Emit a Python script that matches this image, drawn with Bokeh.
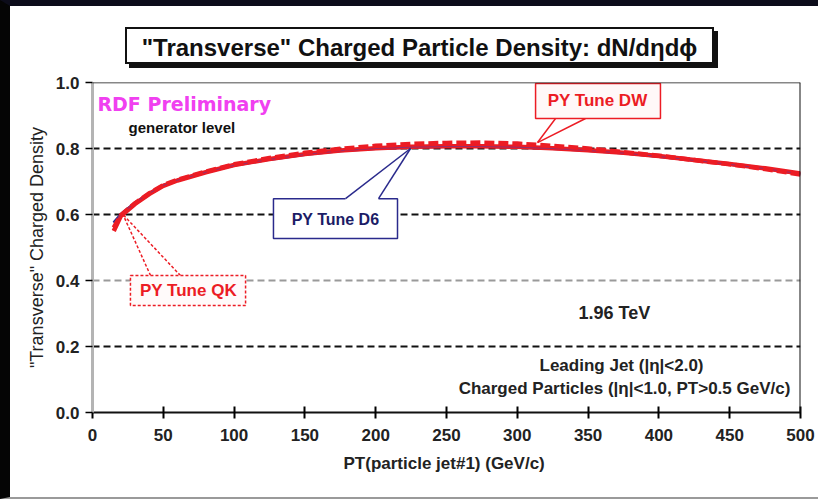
import math
from bokeh.plotting import figure
from bokeh.layouts import column
from bokeh.models import Label, Span, FixedTicker, PrintfTickFormatter, Div
from bokeh.embed import file_html
from bokeh.resources import INLINE

# ---- data ----
pt = [15, 20, 30, 40, 50, 60, 80, 100, 125, 150, 175, 200, 225, 250, 275,
      300, 325, 350, 375, 400, 425, 450, 475, 500]
tune_qk = [0.550, 0.595, 0.632, 0.662, 0.687, 0.703, 0.728, 0.750, 0.768, 0.783,
           0.794, 0.801, 0.805, 0.807, 0.807, 0.805, 0.801, 0.795, 0.787, 0.777,
           0.765, 0.753, 0.740, 0.724]
tune_d6 = [0.575, 0.600, 0.635, 0.664, 0.688, 0.704, 0.728, 0.749, 0.767, 0.782,
           0.793, 0.800, 0.804, 0.806, 0.806, 0.804, 0.800, 0.794, 0.786, 0.776,
           0.764, 0.752, 0.739, 0.723]
tune_dw = [0.560, 0.598, 0.634, 0.664, 0.689, 0.705, 0.730, 0.752, 0.771, 0.787,
           0.799, 0.808, 0.814, 0.817, 0.818, 0.815, 0.808, 0.800, 0.789, 0.778,
           0.765, 0.752, 0.738, 0.721]

x_ticks = [0, 50, 100, 150, 200, 250, 300, 350, 400, 450, 500]
y_ticks = [0.0, 0.2, 0.4, 0.6, 0.8, 1.0]
grid_levels = [0.2, 0.4, 0.6, 0.8]
grid_colors = ["#111111", "#9a9a9a", "#111111", "#111111"]

# annotation geometry (data coordinates)
dw_box = dict(left=312.9, right=401.1, top=0.997, bottom=0.891)
dw_callout_x = [[327.0, 314.3], [348.2, 314.3]]
dw_callout_y = [[0.891, 0.818], [0.891, 0.818]]
d6_box = dict(left=127.8, right=215.4, top=0.648, bottom=0.527)
d6_callout_x = [[178.7, 224.6], [202.0, 224.6]]
d6_callout_y = [[0.648, 0.800], [0.648, 0.800]]
qk_box = dict(left=26.8, right=108.1, top=0.415, bottom=0.324)
qk_callout_x = [[41.0, 21.5], [62.1, 21.5]]
qk_callout_y = [[0.415, 0.600], [0.415, 0.600]]

RED = "#ec1c24"
NAVY = "#2a2a8c"
FONT = "Liberation Sans"
TITLE = "\"Transverse\" Charged Particle Density: dN/dηdϕ"

p = figure(width=808, height=427, x_range=(0, 500), y_range=(0, 1.0),
           output_backend="svg", toolbar_location=None,
           min_border_left=82, min_border_right=18, min_border_top=12,
           min_border_bottom=85)
p.outline_line_color = None
p.xgrid.visible = False
p.ygrid.visible = False
p.background_fill_color = "white"
p.border_fill_color = "white"
p.border_fill_alpha = 0.0

# axes
p.xaxis.ticker = FixedTicker(ticks=x_ticks)
p.yaxis.ticker = FixedTicker(ticks=y_ticks)
p.xaxis.minor_tick_line_color = None
p.yaxis.minor_tick_line_color = None
p.xaxis.axis_line_color = "#111111"
p.xaxis.axis_line_width = 2
p.xaxis.major_tick_line_width = 2
p.xaxis.major_tick_in = 6
p.xaxis.major_tick_out = 6
p.xaxis.major_label_standoff = 10
p.yaxis.axis_line_color = "#b4b4b4"
p.yaxis.axis_line_width = 3
p.yaxis.major_tick_line_width = 1.5
p.yaxis.major_tick_in = 0
p.yaxis.major_tick_out = 7
p.yaxis.major_label_standoff = 6
p.yaxis.formatter = PrintfTickFormatter(format="%.1f")
for ax in (p.xaxis, p.yaxis):
    ax.major_label_text_font = FONT
    ax.major_label_text_font_style = "bold"
    ax.major_label_text_font_size = "17px"
    ax.major_label_text_color = "#222222"

p.xaxis.axis_label = "PT(particle jet#1)  (GeV/c)"
p.xaxis.axis_label_text_font = FONT
p.xaxis.axis_label_text_font_style = "bold"
p.xaxis.axis_label_text_font_size = "17px"
p.xaxis.axis_label_text_color = "#222222"
p.xaxis.axis_label_standoff = 10

p.yaxis.axis_label = "\"Transverse\" Charged Density"
p.yaxis.axis_label_text_font = FONT
p.yaxis.axis_label_text_font_style = "normal"
p.yaxis.axis_label_text_font_size = "18px"
p.yaxis.axis_label_text_color = "#222222"
p.yaxis.axis_label_standoff = 6

# grid dashes (beneath glyphs)
for lvl, col in zip(grid_levels, grid_colors):
    p.add_layout(Span(location=lvl, dimension="width", line_color=col,
                      line_width=2, line_dash="7 4", level="underlay"))
# frame top and right
p.add_layout(Span(location=y_ticks[-1], dimension="width", line_color="#111111", line_width=1.5))
p.add_layout(Span(location=x_ticks[-1], dimension="height", line_color="#111111", line_width=2))

# curves
p.line(pt, tune_d6, line_color=NAVY, line_width=3)
p.line(pt, tune_qk, line_color=RED, line_width=4.5)
p.line(pt, tune_d6, line_color="#5a3aa0", line_width=1, line_alpha=0.6)
p.line(pt, tune_dw, line_color=RED, line_width=4.5, line_dash="10 4")

# DW box
p.multi_line(dw_callout_x, dw_callout_y, line_color=RED, line_width=1.5)
p.quad(fill_color="#fff8f8", line_color=RED, line_width=1.5, **dw_box)
# D6 box
p.quad(fill_color="white", line_color=NAVY, line_width=1.5, **d6_box)
p.segment(x0=[d6_callout_x[0][0]], y0=[d6_box["top"]], x1=[d6_callout_x[1][0]],
          y1=[d6_box["top"]], line_color="white", line_width=3)
p.multi_line(d6_callout_x, d6_callout_y, line_color=NAVY, line_width=1.5)
# QK box
p.multi_line(qk_callout_x, qk_callout_y, line_color=RED, line_width=1.5, line_dash="3 2")
p.quad(fill_color="#fffafa", line_color=RED, line_width=1.5, line_dash="3 2", **qk_box)

def lbl(x, y, text, size, color="#111111", style="bold", align="center",
        baseline="middle", angle=0.0, font=FONT, **kw):
    l = Label(x=x, y=y, text=text, text_font=font, text_font_size=size,
              text_color=color, text_font_style=style, text_align=align,
              text_baseline=baseline, angle=angle, **kw)
    p.add_layout(l)
    return l

lbl(356.7, 0.945, "PY Tune DW", "17px", RED)
lbl(171.6, 0.585, "PY Tune D6", "16px", "#1c1c66")
lbl(67.8, 0.370, "PY Tune QK", "17px", RED)
lbl(3.5, 0.936, "RDF Preliminary", "19px", "#f040f0", align="left", font="DejaVu Sans")
lbl(25.4, 0.864, "generator level", "15px", "#111111", align="left")
lbl(368.6, 0.303, "1.96 TeV", "18px", "#222222", style="bold")
lbl(373.6, 0.142, "Leading Jet (|η|<2.0)", "17px", "#222222")
lbl(375.7, 0.073, "Charged Particles (|η|<1.0, PT>0.5 GeV/c)", "17px", "#222222")

# chart title box with shadow
title_html = (
    '<div style="position:relative; left:115px; top:21px; width:589px; height:37px; '
    'border:2px solid #111; box-shadow:4px 4px 0 #111; background:white; '
    "font-family:'Liberation Sans'; font-weight:bold; font-size:24px; "
    'line-height:37px; text-align:center; color:#111; white-space:nowrap;">'
    + TITLE.replace('"', "&quot;") + '</div>'
)
title_div = Div(text=title_html, width=808, height=64, margin=0)

layout = column(title_div, p, spacing=0)
layout.styles = {"border-top": "6px solid #0c0c1a", "border-left": "10px solid #050505",
                 "border-bottom": "2px solid #9a9a9a", "background": "white"}

open("out.html", "w").write(file_html(layout, INLINE))
